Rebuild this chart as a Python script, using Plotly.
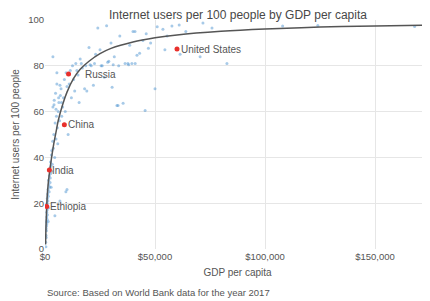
import plotly.graph_objects as go

# ---- data ----
gdp = [300, 400, 450, 500, 550, 600, 650, 700, 750, 800, 850, 900, 950, 1000, 1050, 1100, 1200, 1250,
       1300, 1400, 1450, 1500, 1600, 1700, 1800, 1900, 2000, 2100, 2200, 2300, 2400, 2500, 2600, 2700,
       2800, 2900, 3000,
       4500, 6800, 10000, 9500,
       3100, 3300, 3500, 3600, 3800, 4000, 4200, 4400, 4600, 4800, 5000, 5200, 5400, 5600, 5800, 6000,
       6300, 6600, 7000, 7300, 7600, 8000, 8400, 8800, 9200, 9600, 10000,
       3600, 5400, 6800, 4100, 5000, 6200, 7500,
       10500, 11000, 11500, 12000, 12500, 13000, 13500, 14000, 14500, 15000, 15500, 16000, 17000, 18000,
       18500, 19000, 20000, 21000, 22000, 23000, 24000, 25000, 26000, 27000, 28000, 29000, 30000,
       16500, 20500, 22500, 25500, 28500, 31000, 33500, 38000, 41000,
       30500, 31500, 32700, 33200, 34000, 35500, 36400, 37700, 38500, 39500, 40000, 40900, 41800, 43000,
       44500, 45500, 46000, 47000, 48000, 50000, 51000, 53600, 54500, 55500, 57700, 61000, 61400, 64000,
       70500, 71800, 75900, 82700,
       108000, 124000, 168000, 173000]
internet = [3, 1, 6, 9, 5, 12, 8, 10, 16, 14, 11, 20, 13, 17, 22, 15, 19, 24,
            21, 26, 12, 23, 30, 18, 28, 25, 32, 27, 35, 29, 31, 38, 33, 36,
            27, 41, 34,
            14.5, 21, 26, 25,
            43, 37, 47, 62, 44, 50, 65, 40, 55, 68, 48, 58, 72, 53, 46, 60,
            64, 56, 67, 70, 58, 62, 66, 74, 60, 77, 71,
            84, 77, 71.5, 63, 61, 66, 64,
            50, 72, 78, 66, 80, 74, 69, 81, 78, 76, 64, 83, 79, 70,
            80, 69, 88, 80, 71.5, 85, 96.5, 87, 80, 75, 97.5, 82, 90,
            81, 80.5, 81, 80, 81.5, 80.5, 80, 80.5, 81,
            70.6, 84, 62.7, 62.7, 93, 63.6, 81, 81, 89, 81, 95, 95, 84.6, 85.5,
            91, 60.5, 94, 87.7, 90, 70, 97, 96, 87, 93, 97.4, 97.8, 85, 95,
            84, 98.7, 96.5, 81,
            97.4, 97.6, 97.2, 98]

label_countries = ["United States", "Russia", "China", "India", "Ethiopia"]
label_gdp = [60000, 10700, 8800, 1980, 770]
label_internet = [87.3, 76.4, 54.3, 34.5, 18.6]
label_xshift = [2, 14, 2, 1, 1]

trend_gdp = [250, 400, 600, 800, 1000, 1500, 2000, 3000, 4000, 5000, 6000, 8000, 10000, 13000,
             16000, 20000, 25000, 30000, 40000, 50000, 60000, 80000, 100000, 125000, 150000, 175000]
trend_internet = [2, 8, 14, 19, 23, 29, 33, 40, 46, 51, 56, 63, 68.5, 74.5,
                  78.5, 82, 85.3, 87.6, 90.4, 92.2, 93.5, 95.1, 96.1, 96.9, 97.4, 97.8]

x_ticks = [0, 50000, 100000, 150000]
x_tick_labels = ["$0", "$50,000", "$100,000", "$150,000"]
y_ticks = [0, 20, 40, 60, 80, 100]

FONT = "Liberation Sans, Arial, sans-serif"
GREY = "#555555"

fig = go.Figure()
fig.add_trace(go.Scatter(
    x=gdp, y=internet, mode="markers",
    marker=dict(color="rgba(80,150,210,0.5)", size=3),
    hoverinfo="x+y", showlegend=False))
fig.add_trace(go.Scatter(
    x=trend_gdp, y=trend_internet, mode="lines",
    line=dict(color="#555555", width=1.5, shape="spline"),
    showlegend=False))
fig.add_trace(go.Scatter(
    x=label_gdp, y=label_internet, mode="markers",
    marker=dict(color="#e8302c", size=5),
    text=label_countries, hoverinfo="text", showlegend=False))

for name, gx, gy, xs in zip(label_countries, label_gdp, label_internet, label_xshift):
    fig.add_annotation(x=gx, y=gy, text=name, showarrow=False, xanchor="left",
                       yanchor="middle", xshift=xs,
                       font=dict(family=FONT, size=10, color=GREY))

fig.add_annotation(text="Internet users per 100 people by GDP per capita",
                   xref="paper", yref="paper", x=0.5, y=1.022, xanchor="center",
                   yanchor="middle", showarrow=False, borderpad=0,
                   font=dict(family=FONT, size=12, color="#484848"))
fig.add_annotation(text="Source: Based on World Bank data for the year 2017",
                   xref="paper", yref="paper", x=0, y=-0.19, xanchor="left",
                   yanchor="middle", showarrow=False,
                   font=dict(family=FONT, size=9.5, color=GREY))

# page body has an 8px margin, so the figure is sized to fit the 430x301 window
fig.update_layout(
    width=422, height=293,
    margin=dict(l=37, r=0, t=12, b=52),
    plot_bgcolor="white", paper_bgcolor="white",
    font=dict(family=FONT, size=9.5, color=GREY),
    xaxis=dict(range=[0, 175000], tickvals=x_ticks, ticktext=x_tick_labels,
               showgrid=True, gridcolor="#e6e6e6", gridwidth=1, zeroline=False,
               showline=False, ticks="", ticklen=0,
               title=dict(text="GDP per capita", font=dict(size=10, color=GREY), standoff=8)),
    yaxis=dict(range=[0, 100], tickvals=y_ticks, showgrid=True, gridcolor="#e6e6e6",
               gridwidth=1, zeroline=False, showline=False, ticks="",
               title=dict(text="Internet users per 100 people", font=dict(size=10, color=GREY),
                          standoff=6)),
)

fig.write_html("out.html")
